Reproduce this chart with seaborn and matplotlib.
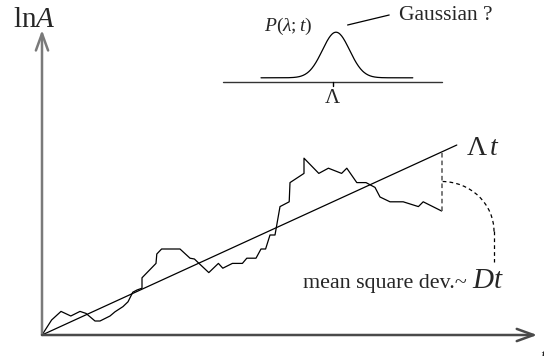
import numpy as np
import pandas as pd
import matplotlib
matplotlib.use("Agg")
import matplotlib.pyplot as plt
import seaborn as sns
from matplotlib.patches import Arc

sns.set_theme(style="white")
plt.rcParams["font.family"] = ["Liberation Serif", "DejaVu Serif"]
plt.rcParams["mathtext.fontset"] = "custom"
plt.rcParams["mathtext.rm"] = "Liberation Serif"
plt.rcParams["mathtext.it"] = "Liberation Serif:italic"

# One realisation of ln A(t): a noisy walk around the mean growth Lambda*t
walk_t = [0, 2.4, 4.75, 7.2, 9.5, 11, 13.25, 14.5, 17, 18.25, 20.25, 21.5,
          22.7, 23.75, 25, 25, 28.5, 28.7, 29.9, 34.5, 37, 38.1, 39.25, 41.7,
          44.1, 45.2, 47.6, 50.1, 51.2, 53.5, 54.75, 55.9, 57, 58.25, 59.5,
          61.8, 62, 65.5, 65.5, 69.2, 71.6, 74.9, 76.2, 78.7, 81, 83.25, 84.5,
          87, 90.3, 94.1, 95.3, 99.9]
walk_lnA = [0, 3.75, 5.9, 4.75, 5.9, 5.4, 3.5, 3.5, 4.75, 5.8, 7.1, 8.3,
            10.7, 11.25, 11.7, 14.3, 17.9, 20.25, 21.5, 21.5, 19.2, 19.0, 17.9,
            15.6, 17.9, 16.7, 17.9, 17.9, 19.2, 19.2, 21.5, 21.5, 25.0, 25.0,
            32.1, 33.3, 38.1, 40.4, 44.2, 40.4, 41.7, 40.4, 41.7, 38.1, 38.1,
            36.9, 34.5, 33.3, 33.3, 32.1, 33.3, 31.0]

# Mean growth line ln A = Lambda * t
Lambda = 0.458
mean_t = [0, 103.7]

# Distribution of the finite-time exponent lambda (inset sketch)
lam_center = 73.5
lam_sigma = 3.4
lam_height = 11.4
lam_base = 64.3
lam_range = (54.75, 92.7)

W, H = 544, 356
ox, oy = 42, 335          # origin in pixels
scale = 4.0               # pixels per data unit

fig = plt.figure(figsize=(W / 100, H / 100), dpi=100)
fig.patch.set_facecolor("white")
ax = fig.add_axes([ox / W, (H - oy) / H, (W - ox) / W, oy / H])
ax.set_xlim(0, (W - ox) / scale)
ax.set_ylim(0, oy / scale)
ax.axis("off")

# axes with narrow open arrow heads
head = "->,head_length=0.55,head_width=0.2"
ax.annotate("", xy=(0, 76.25), xytext=(0, 0), annotation_clip=False,
            arrowprops=dict(arrowstyle=head, color="#7a7a7a", lw=1.8,
                            mutation_scale=22, shrinkA=0, shrinkB=0))
ax.annotate("", xy=(123.8, 0), xytext=(0, 0), annotation_clip=False,
            arrowprops=dict(arrowstyle=head, color="#4a4a4a", lw=1.8,
                            mutation_scale=22, shrinkA=0, shrinkB=0))

walk = pd.DataFrame({"t": walk_t, "lnA": walk_lnA})
sns.lineplot(data=walk, x="t", y="lnA", sort=False, color="black",
             lw=0.9, ax=ax, estimator=None)

mean = pd.DataFrame({"t": mean_t, "lnA": [Lambda * v for v in mean_t]})
sns.lineplot(data=mean, x="t", y="lnA", color="black", lw=0.9, ax=ax,
             estimator=None)

# deviation of the walk from the mean at its end point
t_end, y_end = walk_t[-1], walk_lnA[-1]
y_mean_end = Lambda * t_end
ax.plot([t_end, t_end], [y_end, y_mean_end], ls=(0, (3, 2)),
        color="#555555", lw=1.1)
y_mid = 0.5 * (y_end + y_mean_end)
arc_cy = y_mid - 12.5
ax.add_patch(Arc((t_end, arc_cy), 2 * 13.1, 2 * 12.5, theta1=0, theta2=90,
                 ls=(0, (3, 2.5)), color="black", lw=0.9))
ax.plot([t_end + 13.1, t_end + 13.1], [arc_cy, 18.2], ls=(0, (3, 2.5)),
        color="black", lw=0.9)

# inset: distribution P(lambda; t)
lam = np.linspace(*lam_range, 300)
dens = pd.DataFrame({"lam": lam,
                     "p": lam_base + lam_height *
                     np.exp(-0.5 * ((lam - lam_center) / lam_sigma) ** 2)})
sns.lineplot(data=dens, x="lam", y="p", color="black", lw=0.9, ax=ax,
             estimator=None)
ax.plot([45.2, 99.9], [63.3, 63.3], color="#333333", lw=1.0)
ax.plot([72.7, 72.7], [63.3, 62.2], color="black", lw=1.0)
ax.plot([76.4, 86.8], [77.5, 80.0], color="black", lw=0.9)

ax.set_xlabel("")
ax.set_ylabel("")

# labels
ax.text(-7.3, 77.0, r"$\mathrm{ln}A$", fontsize=21, va="baseline",
        ha="left", clip_on=False)
ax.text(89.3, 78.7, "Gaussian ?", fontsize=15.5, va="baseline", ha="left")
ax.text(55.5, 75.9, r"$P(\lambda;t)$", fontsize=14, va="baseline",
        ha="left")
ax.text(72.7, 61.4, r"$\Lambda$", fontsize=15, va="top", ha="center")
ax.text(106.0, 45.0, r"$\Lambda\,t$", fontsize=20, va="baseline",
        ha="left")
ax.text(65.3, 11.8, "mean square dev.~", fontsize=15.8, va="baseline",
        ha="left")
ax.text(107.6, 11.8, r"$Dt$", fontsize=21, va="baseline", ha="left")
ax.text(124.6, -3.2, r"$t$", fontsize=14, va="top", ha="left",
        clip_on=False)

fig.savefig("out.png", dpi=100, facecolor="white")
